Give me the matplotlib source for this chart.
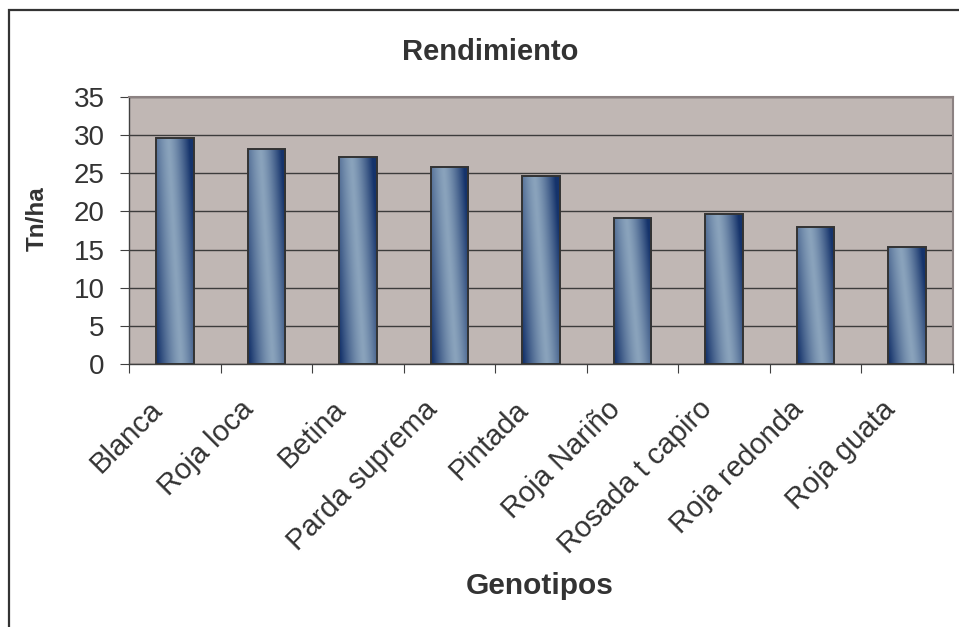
import numpy as np
import matplotlib
matplotlib.use("Agg")
import matplotlib.pyplot as plt
from matplotlib.patches import Rectangle
from matplotlib.colors import to_rgb
from matplotlib.transforms import ScaledTranslation

# Data
genotipos = ["Blanca", "Roja loca", "Betina", "Parda suprema", "Pintada",
             "Roja Nariño", "Rosada t capiro", "Roja redonda", "Roja guata"]
rendimiento = [29.6, 28.2, 27.2, 25.8, 24.6, 19.2, 19.7, 18.0, 15.4]
y_ticks = [0, 5, 10, 15, 20, 25, 30, 35]

plt.rcParams["font.family"] = ["Liberation Sans", "DejaVu Sans"]
TEXT = "#333333"

W, H, DPI = 959, 627, 100
fig = plt.figure(figsize=(W / DPI, H / DPI), dpi=DPI)
fig.patch.set_facecolor("white")

# Plot area in pixel geometry
left, right, top, bottom = 129, 953, 97, 364
ax = fig.add_axes([left / W, 1 - bottom / H, (right - left) / W, (bottom - top) / H])
ax.set_facecolor("#c0b7b4")

x = np.arange(len(genotipos))
bars = ax.bar(x, rendimiento, width=0.41, facecolor="none",
              edgecolor="#333333", linewidth=1.4, zorder=3)

# Diagonal steel-blue gradient inside each bar
dark = np.array(to_rgb("#15336b"))
light = np.array(to_rgb("#8aa3bc"))
ny, nx = 200, 80
xs = np.linspace(0, 1, nx)
ys = np.linspace(0, 1, ny)
XX, YY = np.meshgrid(xs, ys)
centre = 0.66 - 0.33 * YY
d = XX - centre
t = np.clip(np.where(d < 0, -d / 0.62, d / 0.55), 0, 1) ** 1.4
img = light[None, None, :] * (1 - t[..., None]) + dark[None, None, :] * t[..., None]

for b in bars:
    x0, w, h = b.get_x(), b.get_width(), b.get_height()
    im = ax.imshow(img, extent=[x0, x0 + w, 0, h], origin="lower",
                   aspect="auto", zorder=2, interpolation="bilinear")
    im.set_clip_path(b)

ax.set_xlim(-0.5, len(genotipos) - 0.5)
ax.set_ylim(0, 35)

# Gridlines
ax.set_yticks(y_ticks)
ax.yaxis.grid(True, color="#3c3c3c", linewidth=1.0, zorder=1)
ax.set_axisbelow(True)

# Spines
for s in ["left", "bottom"]:
    ax.spines[s].set_color("#404040")
    ax.spines[s].set_linewidth(1.0)
for s in ["top", "right"]:
    ax.spines[s].set_color("#8c8282")
    ax.spines[s].set_linewidth(1.5)

# Y ticks
ax.tick_params(axis="y", direction="out", length=6.5, width=0.8,
               color="#404040", labelsize=20, labelcolor=TEXT, pad=11)

# X: tick marks at category boundaries, labels at centres
ax.set_xticks(np.arange(-0.5, len(genotipos) + 0.5, 1), minor=True)
ax.set_xticks(x)
ax.set_xticklabels(genotipos, rotation=45, ha="right", va="center",
                   rotation_mode="anchor")
ax.tick_params(axis="x", which="major", length=0, labelsize=21,
               labelcolor=TEXT, pad=29.5)
ax.tick_params(axis="x", which="minor", direction="out", length=6.5,
               width=0.8, color="#404040")
off = ScaledTranslation(-12 / 72, 0, fig.dpi_scale_trans)
for lbl in ax.get_xticklabels():
    lbl.set_transform(lbl.get_transform() + off)

# Titles
fig.text(490 / W, 1 - 52 / H, "Rendimiento", ha="center", va="center",
         fontsize=21, fontweight="bold", color=TEXT)
fig.text(540 / W, 1 - 586 / H, "Genotipos", ha="center", va="center",
         fontsize=21.5, fontweight="bold", color=TEXT)
fig.text(37.5 / W, 1 - 219 / H, "Tn/ha", ha="center", va="center",
         rotation=90, fontsize=17.5, fontweight="bold", color=TEXT)

# Chart border
fig.patches.append(Rectangle((9 / W, -0.05), 1.1, 1 - 10 / H + 0.05,
                             transform=fig.transFigure, fill=False,
                             edgecolor="#333333", linewidth=1.6,
                             clip_on=False))

fig.savefig("out.png", dpi=DPI)
